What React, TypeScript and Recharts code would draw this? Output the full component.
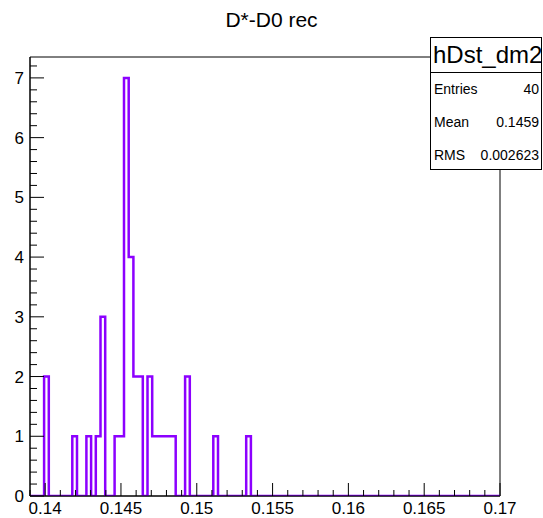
import { LineChart, Line, XAxis, YAxis, ReferenceArea } from 'recharts';

// histogram binning: 100 bins between xLow and xHigh
const xLow = 0.139;
const xHigh = 0.17;
const nBins = 100;

// non-empty bins (bin index -> entries)
const filledBins = [3, 9, 12, 14, 15, 18, 19, 20, 21, 22, 23, 25, 26, 27, 28, 29, 30, 33, 39, 46];
const filledCounts = [2, 1, 1, 1, 3, 1, 1, 7, 4, 2, 2, 2, 1, 1, 1, 1, 1, 2, 1, 1];

const xMajor = [0.14, 0.145, 0.15, 0.155, 0.16, 0.165, 0.17];
const xMajorLabels = ['0.14', '0.145', '0.15', '0.155', '0.16', '0.165', '0.17'];
const yMajor = [0, 1, 2, 3, 4, 5, 6, 7];
const yMax = 7.35;

const statsTitle = 'hDst_dm2';
const statsNames = ['Entries', 'Mean', 'RMS'];
const statsValues = ['40', '0.1459', '0.002623'];

const FONT = '"Liberation Sans", Arial, Helvetica, sans-serif';
const HIST_COLOR = '#8c00ff';

const binWidth = (xHigh - xLow) / nBins;
const counts: number[] = Array.from({ length: nBins }, () => 0);
filledBins.forEach((b, i) => {
  counts[b] = filledCounts[i];
});
// one point per low edge, plus the upper edge of the last bin
const histData = Array.from({ length: nBins + 1 }, (_, i) => ({
  x: xLow + i * binWidth,
  n: counts[Math.min(i, nBins - 1)],
}));

// minor ticks: 5 per major division on x, 5 per unit on y
const xTicks: number[] = [];
for (let v = 139; v <= 170; v++) xTicks.push(v / 1000);
const yTicks: number[] = [];
for (let v = 0; v <= 36; v++) yTicks.push(v / 5);

const isMajor = (arr: number[], v: number) => arr.some((m) => Math.abs(m - v) < 1e-9);

const XTick = (props: any) => {
  const { x, y, payload } = props;
  const v = payload.value as number;
  const idx = xMajor.findIndex((m) => Math.abs(m - v) < 1e-9);
  const major = idx >= 0;
  return (
    <g>
      <line x1={x} x2={x} y1={y} y2={y - (major ? 13 : 6)} stroke="#000" strokeWidth={1} />
      {major && (
        <text x={x} y={y + 18} textAnchor="middle" fontFamily={FONT} fontSize={17} fill="#000">
          {xMajorLabels[idx]}
        </text>
      )}
    </g>
  );
};

const YTick = (props: any) => {
  const { x, y, payload } = props;
  const v = payload.value as number;
  const major = isMajor(yMajor, v);
  return (
    <g>
      <line x1={x} x2={x + (major ? 14 : 7)} y1={y} y2={y} stroke="#000" strokeWidth={1} />
      {major && (
        <text x={x - 6} y={y + 6} textAnchor="end" fontFamily={FONT} fontSize={17} fill="#000">
          {Math.round(v)}
        </text>
      )}
    </g>
  );
};

const StatsBox = () => (
  <div
    style={{
      position: 'absolute',
      left: 430,
      top: 37,
      width: 112,
      height: 133,
      border: '1px solid #000',
      background: '#fff',
      fontFamily: FONT,
      boxSizing: 'border-box',
    }}
  >
    <div
      style={{
        height: 34,
        borderBottom: '1px solid #000',
        fontSize: 24,
        lineHeight: '34px',
        paddingLeft: 2,
        whiteSpace: 'nowrap',
      }}
    >
      {statsTitle}
    </div>
    {statsNames.map((name, i) => (
      <div
        key={name}
        style={{
          display: 'flex',
          justifyContent: 'space-between',
          height: 33,
          lineHeight: '33px',
          fontSize: 14,
          padding: '0 2px 0 3px',
        }}
      >
        <span>{name}</span>
        <span>{statsValues[i]}</span>
      </div>
    ))}
  </div>
);

export default function App() {
  return (
    <div style={{ position: 'absolute', left: 0, top: 0, width: 543, height: 518, background: '#fff' }}>
      <div
        style={{
          position: 'absolute',
          left: 0,
          width: 543,
          top: 8,
          textAlign: 'center',
          fontFamily: FONT,
          fontSize: 21,
          lineHeight: '24px',
        }}
      >
        D*-D0 rec
      </div>
      <LineChart
        width={543}
        height={518}
        data={histData}
        margin={{ top: 57, right: 43, bottom: 0, left: 0 }}
      >
        <ReferenceArea x1={xLow} x2={xHigh} y1={0} y2={yMax} fill="none" stroke="#000" strokeWidth={1} />
        <XAxis
          dataKey="x"
          type="number"
          domain={[xLow, xHigh]}
          ticks={xTicks}
          interval={0}
          allowDataOverflow
          height={22}
          tickSize={0}
          tickMargin={0}
          tick={XTick}
          axisLine={{ stroke: '#000' }}
        />
        <YAxis
          type="number"
          domain={[0, yMax]}
          ticks={yTicks}
          interval={0}
          allowDataOverflow
          width={30}
          tickSize={0}
          tickMargin={0}
          tick={YTick}
          axisLine={{ stroke: '#000' }}
        />
        <Line
          dataKey="n"
          type="stepAfter"
          stroke={HIST_COLOR}
          strokeWidth={2.5}
          dot={false}
          activeDot={false}
          isAnimationActive={false}
        />
      </LineChart>
      <StatsBox />
    </div>
  );
}
